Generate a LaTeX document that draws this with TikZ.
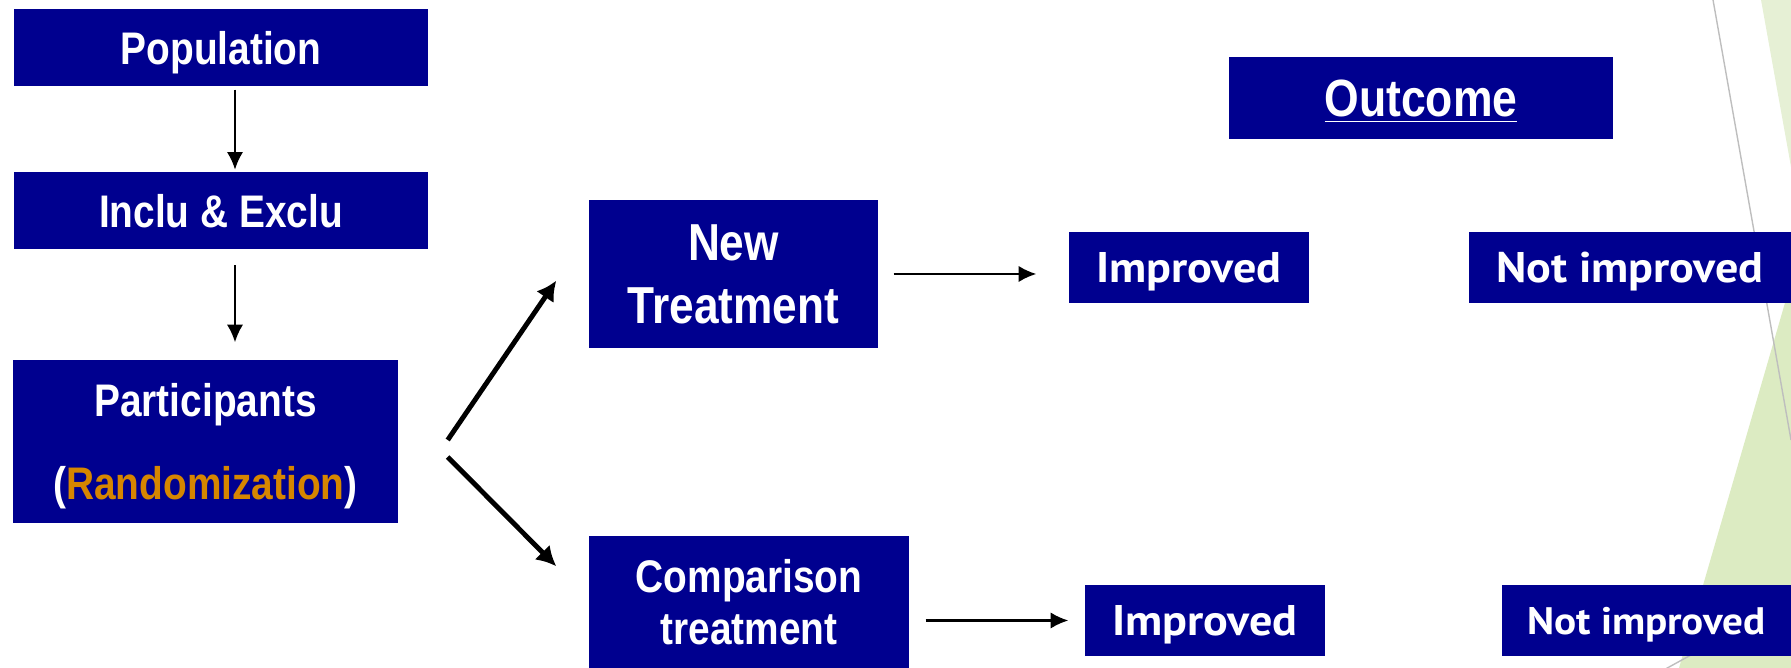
\documentclass[tikz,border=0pt]{standalone}
\usepackage{fontspec}
\setmainfont{Liberation Sans}[FakeStretch=0.85]
\newfontfamily\outfont{PT Sans}[FakeStretch=1.075]
\usetikzlibrary{positioning, arrows.meta}
\definecolor{boxblue}{RGB}{0,0,143}
\definecolor{randorange}{RGB}{214,134,0}
\definecolor{paleleaf}{RGB}{230,240,213}
\definecolor{leaf}{RGB}{220,235,194}
\definecolor{rim}{RGB}{190,190,190}

\tikzset{
    box/.style={fill=boxblue, text=white, inner sep=0pt, align=center, text depth=0pt,
        font=\bfseries\fontsize{13}{15.6}\selectfont},
    outbox/.style={box, font=\outfont\bfseries\fontsize{12.2}{14}\selectfont},
    thin arrow/.style={-{Latex[length=5pt,width=4.6pt]}, line width=0.6pt},
    thick arrow/.style={-{Latex[length=5.6pt,width=6pt]}, line width=1.4pt},
}

\begin{document}
\begin{tikzpicture}
    \useasboundingbox (0,0) rectangle (17.91,6.68);
    % slide decoration at the right edge
    \fill[paleleaf] (17.61,6.68) -- (17.91,6.68) -- (17.91,5.01) -- cycle;
    \fill[leaf] (17.91,3.86) -- (16.79,0) -- (17.91,0) -- cycle;
    \draw[rim, line width=0.4pt] (17.13,6.68) -- (17.91,2.28);
    \draw[rim, line width=0.4pt] (16.60,-0.04) -- (17.00,0.18);

    \node[box, minimum width=4.14cm, minimum height=0.77cm] (pop) at (2.21,6.205) {Population};
    \node[box, minimum width=4.14cm, minimum height=0.77cm, below=0.85cm of pop] (incl) {Inclu \& Exclu};
    \node[box, minimum width=3.85cm, minimum height=1.63cm,
          font=\bfseries\fontsize{13}{23.8}\selectfont] (part) at (2.055,2.265)
          {Participants\\(\textcolor{randorange}{Randomization})};

    \node[box, minimum width=2.89cm, minimum height=1.48cm,
          font=\bfseries\fontsize{14.8}{17.9}\selectfont] (newt) at (7.335,3.94) {New\\Treatment};
    \node[box, minimum width=3.20cm, minimum height=1.32cm,
          font=\bfseries\fontsize{13}{15}\selectfont] (comp) at (7.49,0.66) {Comparison\\treatment};

    \node[box, minimum width=3.84cm, minimum height=0.82cm,
          font=\bfseries\fontsize{14.9}{17}\selectfont] (outc) at (14.21,5.70) {\underline{Outcome}};
    \node[outbox, minimum width=2.40cm, minimum height=0.71cm] (imp1) at (11.89,4.005) {Improved};
    \node[outbox, minimum width=3.22cm, minimum height=0.71cm] (nimp1) at (16.30,4.005) {Not improved};
    \node[outbox, minimum width=2.40cm, minimum height=0.71cm] (imp2) at (12.05,0.475) {Improved};
    \node[outbox, minimum width=2.89cm, minimum height=0.71cm,
          font=\outfont\bfseries\fontsize{10.9}{13}\selectfont] (nimp2) at (16.465,0.475) {Not improved};

    \draw[thin arrow, shorten <=0.03cm, shorten >=0.02cm]
        ([xshift=0.14cm]pop.south) -- ([xshift=0.14cm]incl.north);
    \draw[thin arrow, shorten <=0.15cm, shorten >=0.17cm]
        ([xshift=0.14cm]incl.south) -- ([xshift=0.14cm]incl.south |- part.north);
    \draw[thick arrow] ([shift={(0.49cm,0.015cm)}]part.east) -- ([shift={(-0.32cm,0.68cm)}]newt.south west);
    \draw[thick arrow] ([shift={(0.49cm,-0.155cm)}]part.east) -- ([shift={(-0.32cm,-0.31cm)}]comp.north west);
    \draw[thin arrow, shorten <=0.15cm] (newt.east) -- ([xshift=-0.32cm]newt.east -| imp1.west);
    \draw[thin arrow, shorten >=0.16cm] ([xshift=0.16cm]comp.east |- imp2.west) -- (imp2.west);
\end{tikzpicture}
\end{document}
